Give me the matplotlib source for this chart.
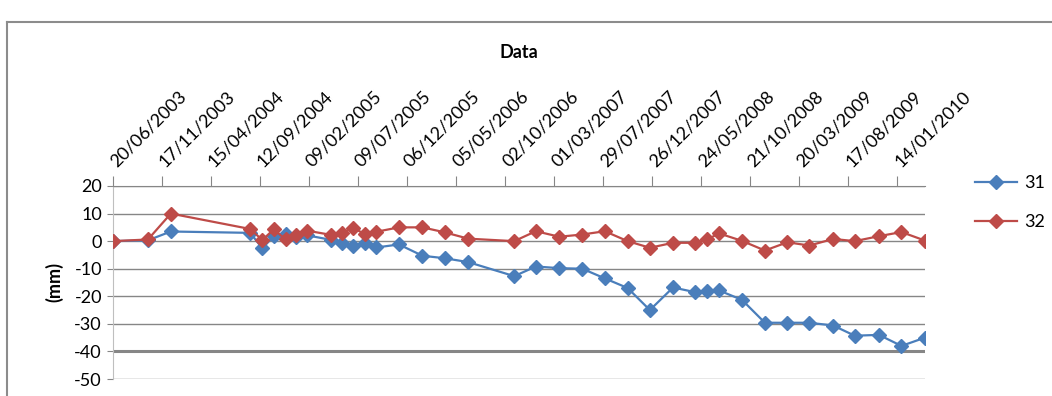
import pandas as pd
import numpy as np
import matplotlib
matplotlib.use('Agg')
import matplotlib.pyplot as plt
import matplotlib.dates as mdates
from matplotlib.lines import Line2D

plt.rcParams['font.family'] = ['Lato', 'DejaVu Sans']
plt.rcParams['axes.unicode_minus'] = False

dates = ['20/06/2003', '05/10/2003', '14/12/2003', '13/08/2004', '19/09/2004',
         '24/10/2004', '29/11/2004', '31/12/2004', '03/02/2005', '16/04/2005',
         '20/05/2005', '24/06/2005', '29/07/2005', '03/09/2005', '11/11/2005',
         '22/01/2006', '31/03/2006', '11/06/2006', '30/10/2006', '04/01/2007',
         '17/03/2007', '26/05/2007', '03/08/2007', '12/10/2007', '19/12/2007',
         '28/02/2008', '05/05/2008', '11/06/2008', '18/07/2008', '26/09/2008',
         '05/12/2008', '12/02/2009', '20/04/2009', '02/07/2009', '06/09/2009',
         '19/11/2009', '27/01/2010', '09/04/2010']

s31 = [0, 0.3, 3.5, 3, -2.6, 1.8, 2.5, 1.4, 2.1, 0.5,
       -0.5, -1.8, -0.5, -2.3, -1.2, -5.3, -6.2, -7.6, -12.7, -9.2,
       -9.8, -10, -13.5, -17, -25, -16.8, -18.5, -18.2, -17.9, -21.3,
       -29.6, -29.6, -29.6, -30.6, -34.3, -34, -38, -35]

s32 = [0, 0.6, 10, 4.4, 0.4, 4.3, 0.6, 2.3, 3.8, 2.3,
       3, 4.8, 2.6, 3.4, 5, 5, 3.2, 0.9, 0, 3.6,
       1.6, 2.4, 3.6, 0, -2.4, -0.6, -0.6, 0.6, 2.8, 0.1,
       -3.4, -0.4, -1.6, 0.8, 0, 1.8, 3.3, 0.2]

x = pd.to_datetime(dates, format='%d/%m/%Y')

fig = plt.figure(figsize=(10.52, 3.96), dpi=100)
ax = fig.add_axes([113/1052, 1-379/396, (925-113)/1052, (379-186)/396])

blue = '#4A7EBB'
red = '#BE4B48'
ax.plot(x, s31, color=blue, lw=1.6, marker='D', ms=7, label='31', zorder=3)
ax.plot(x, s32, color=red, lw=1.6, marker='D', ms=7, label='32', zorder=3)

ax.set_xlim(x[0], x[-1])
ax.set_ylim(-50, 20)
ax.set_yticks(np.arange(-50, 21, 10))

ticks = pd.date_range(x[0], '2010-01-14', freq='150D')
ax.set_xticks(ticks)
ax.xaxis.set_major_formatter(mdates.DateFormatter('%d/%m/%Y'))
ax.xaxis.tick_top()
ax.tick_params(axis='x', direction='out', length=7, color='#868686', labelsize=13, pad=9)
ax.tick_params(axis='y', direction='out', length=4, color='#868686', labelsize=13, pad=4)
for lab in ax.get_xticklabels():
    lab.set_rotation(45)
    lab.set_ha('left')
    lab.set_va('center')
    lab.set_rotation_mode('anchor')

ax.grid(axis='y', color='#868686', lw=1)
ax.set_axisbelow(True)
ax.get_ygridlines()[1].set_linewidth(2.2)
for sp in ['right', 'bottom']:
    ax.spines[sp].set_visible(False)
ax.spines['top'].set_color('#868686')
ax.spines['left'].set_color('#BFBFBF')

ax.set_ylabel('(mm)', fontsize=13, fontweight='bold', labelpad=8)
fig.text(519/1052, 1-53/396, 'Data', ha='center', va='center', fontsize=13, fontweight='bold')

ax.legend(loc='upper left', bbox_to_anchor=(975/1052, 1-175/396), bbox_transform=fig.transFigure,
          frameon=False, fontsize=13, borderpad=0, borderaxespad=0, handlelength=2.3,
          handletextpad=0.4, labelspacing=1.3)

# outer chart border
fig.add_artist(Line2D([7/1052, 1], [1-22/396, 1-22/396], color='#8C8C8C', lw=1.5))
fig.add_artist(Line2D([7/1052, 7/1052], [0, 1-22/396], color='#8C8C8C', lw=1.5))

plt.savefig('out.png', dpi=100)
